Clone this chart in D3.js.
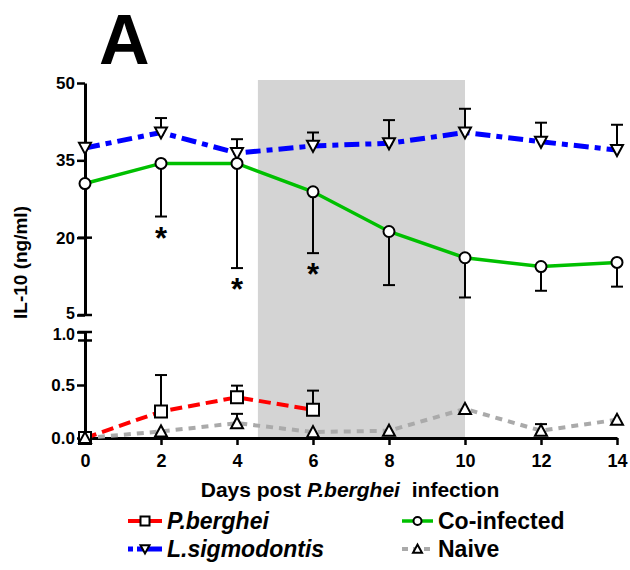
<!DOCTYPE html>
<html>
<head>
<meta charset="utf-8">
<script src="https://cdn.jsdelivr.net/npm/d3@7"></script>
<style>
  body { margin: 0; background: #fff; }
  text { font-family: "Liberation Sans", Arial, sans-serif; font-weight: bold; }
</style>
</head>
<body>
<svg id="chart" width="630" height="570"></svg>
<script>
// data
const days = [0, 2, 4, 6, 8, 10, 12, 14];
const coInfected = [30.5, 34.4, 34.4, 28.9, 21.2, 16.1, 14.4, 15.2];
const coInfectedLow = [null, 24.1, 14.1, 17.0, 10.8, 8.4, 9.7, 10.5];   // lower error end
const lSigmo = [37.4, 40.4, 36.4, 37.8, 38.3, 40.4, 38.6, 37.0];
const lSigmoHigh = [null, 43.2, 39.1, 40.4, 42.8, 45.0, 42.3, 41.9];    // upper error end
const pbDays = [0, 2, 4, 6];
const pBerghei = [0, 0.25, 0.384, 0.266];
const pBergheiHigh = [null, 0.594, 0.494, 0.447];
const naive = [0, 0.062, 0.14, 0.056, 0.069, 0.275, 0.069, 0.172];
const naiveHigh = [null, null, 0.228, null, null, null, 0.131, null];
const signifDays = [2, 4, 6];          // asterisks under co-infected
const shadeDays = [4.55, 10];          // grey window
const yTopTicks = [5, 20, 35, 50];
const yBotTicks = [0, 0.5, 1.0];

const svg = d3.select("#chart");

// scales (broken y axis: two segments)
const x = d3.scaleLinear().domain([0, 14]).range([85, 617]);
const yTop = d3.scaleLinear().domain([5, 50]).range([315, 83]);
const yBot = d3.scaleLinear().domain([0, 1]).range([438, 332]);

// panel letter
svg.append("text").attr("x", 99).attr("y", 64)
   .style("font-size", "70px").text("A");

// shaded window
svg.append("rect")
   .attr("x", x(shadeDays[0]))
   .attr("y", 80)
   .attr("width", x(shadeDays[1]) - x(shadeDays[0]))
   .attr("height", yBot(0) - 80)
   .attr("fill", "#d4d4d4");

// axes
function styleAxis(g){
    g.selectAll(".domain").attr("stroke", "black").attr("stroke-width", 3);
    g.selectAll(".tick line").attr("stroke", "black").attr("stroke-width", 2.5);
    g.selectAll(".tick text").attr("fill", "black").style("font-size", "17px")
        .style("font-family", "'Liberation Sans', Arial, sans-serif").style("font-weight", "bold");
}

const yTopAxis = svg.append("g").attr("transform", `translate(${x(0)},0)`)
   .call(d3.axisLeft(yTop).tickValues(yTopTicks).tickSize(8).tickSizeOuter(0).tickPadding(2).tickFormat(d3.format("d")))
   .call(styleAxis);
const yBotAxis = svg.append("g").attr("transform", `translate(${x(0)},0)`)
   .call(d3.axisLeft(yBot).tickValues(yBotTicks).tickSize(8).tickSizeOuter(0).tickPadding(2).tickFormat(d3.format(".1f")))
   .call(styleAxis);
// labels either side of the break sit close; nudge them apart a little
yTopAxis.selectAll(".tick text").filter(d => d === 5).attr("y", -2).style("font-size", "16px");
yBotAxis.selectAll(".tick text").filter(d => d === 1).attr("y", 2).style("font-size", "16px");

const xAxis = svg.append("g").attr("transform", `translate(0,${yBot(0)})`)
   .call(d3.axisBottom(x).tickValues(days).tickSize(7).tickSizeOuter(0).tickPadding(9))
   .call(styleAxis);
xAxis.selectAll(".tick text").style("font-size", "18px");

// break caps crossing the axis
[yTop(5), yBot(1), yBot(0.92), yTop(20)].forEach(yy => {
    svg.append("line")
       .attr("x1", x(0) - 7).attr("x2", x(0) + 7)
       .attr("y1", yy).attr("y2", yy)
       .attr("stroke", "black").attr("stroke-width", 2.5);
});

// axis titles
svg.append("text")
   .attr("transform", `translate(27,${(yTop(50) + yBot(0)) / 2 + 2}) rotate(-90)`)
   .attr("text-anchor", "middle")
   .style("font-size", "19px")
   .text("IL-10 (ng/ml)");

const xt = svg.append("text").attr("x", 350).attr("y", 497)
   .attr("text-anchor", "middle").style("font-size", "21px");
xt.append("tspan").text("Days post ");
xt.append("tspan").style("font-style", "italic").text("P.berghei");
xt.append("tspan").attr("dx", 6).text(" infection");

// series definitions
const series = [
    {name: "P.berghei", italic: true, xs: pbDays, ys: pBerghei, err: pBergheiHigh, scale: yBot,
     color: "#ff0000", width: 4, dash: "12,6", marker: "square"},
    {name: "L.sigmodontis", italic: true, xs: days, ys: lSigmo, err: lSigmoHigh, scale: yTop,
     color: "#0000ff", width: 5, dash: "15,6,6,6", marker: "down"},
    {name: "Co-infected", italic: false, xs: days, ys: coInfected, err: coInfectedLow, scale: yTop,
     color: "#00c000", width: 3.5, dash: null, marker: "circle"},
    {name: "Naive", italic: false, xs: days, ys: naive, err: naiveHigh, scale: yBot,
     color: "#aaaaaa", width: 4, dash: "7,6", marker: "up"}
];

function markerPath(type, s){
    // s = half size
    if (type === "square") return `M${-s},${-s}H${s}V${s}H${-s}Z`;
    if (type === "up") return `M${-s},${s*0.85}H${s}L0,${-s}Z`;
    if (type === "down") return `M${-s},${-s*0.85}H${s}L0,${s}Z`;
    return null;
}
function drawMarker(g, type, cx, cy, s){
    if (type === "circle") {
        g.append("circle").attr("cx", cx).attr("cy", cy).attr("r", s)
         .attr("fill", "white").attr("stroke", "black").attr("stroke-width", 2);
    } else {
        g.append("path").attr("d", markerPath(type, s))
         .attr("transform", `translate(${cx},${cy})`)
         .attr("fill", "white").attr("stroke", "black").attr("stroke-width", 2)
         .attr("stroke-linejoin", "miter");
    }
}

const plot = svg.append("g");

// lines
series.forEach(s => {
    const pts = s.xs.map((d, i) => [x(d), s.scale(s.ys[i])]);
    plot.append("path")
        .attr("d", d3.line()(pts))
        .attr("fill", "none")
        .attr("stroke", s.color)
        .attr("stroke-width", s.width)
        .attr("stroke-dasharray", s.dash);
});

// error bars
series.forEach(s => {
    s.xs.forEach((d, i) => {
        if (s.err[i] === null) return;
        const cx = x(d), y0 = s.scale(s.ys[i]), y1 = s.scale(s.err[i]);
        plot.append("line").attr("x1", cx).attr("x2", cx).attr("y1", y0).attr("y2", y1)
            .attr("stroke", "black").attr("stroke-width", 2);
        plot.append("line").attr("x1", cx - 6).attr("x2", cx + 6).attr("y1", y1).attr("y2", y1)
            .attr("stroke", "black").attr("stroke-width", 2);
    });
});

// markers
series.forEach(s => {
    s.xs.forEach((d, i) => {
        drawMarker(plot, s.marker, x(d), s.scale(s.ys[i]), s.marker === "circle" ? 5.5 : 6);
    });
});

// significance asterisks below co-infected error bars
signifDays.forEach(d => {
    const i = days.indexOf(d);
    svg.append("text")
       .attr("x", x(d))
       .attr("y", yTop(coInfectedLow[i]) + 32)
       .attr("text-anchor", "middle")
       .style("font-size", "31px")
       .text("*");
});

// legend
const legendPos = [
    {lx: 128, ly: 521},   // P.berghei
    {lx: 128, ly: 549},   // L.sigmodontis
    {lx: 402, ly: 521},   // Co-infected
    {lx: 402, ly: 549}    // Naive
];
series.forEach((s, i) => {
    const p = legendPos[i];
    const w = i < 2 ? 34 : 31;
    const lg = svg.append("g");
    lg.append("line").attr("x1", p.lx).attr("x2", p.lx + w).attr("y1", p.ly).attr("y2", p.ly)
      .attr("stroke", s.color).attr("stroke-width", s.width)
      .attr("stroke-dasharray", s.dash ? (s.marker === "down" ? "5,4,40" : (s.marker === "up" ? "6,5" : null)) : null);
    drawMarker(lg, s.marker, p.lx + w / 2, p.ly, s.marker === "circle" ? 4 : 4.5);
    lg.append("text").attr("x", p.lx + w + 5).attr("y", p.ly + 8)
      .style("font-size", "23px")
      .style("font-style", s.italic ? "italic" : "normal")
      .text(s.name);
});
</script>
</body>
</html>
